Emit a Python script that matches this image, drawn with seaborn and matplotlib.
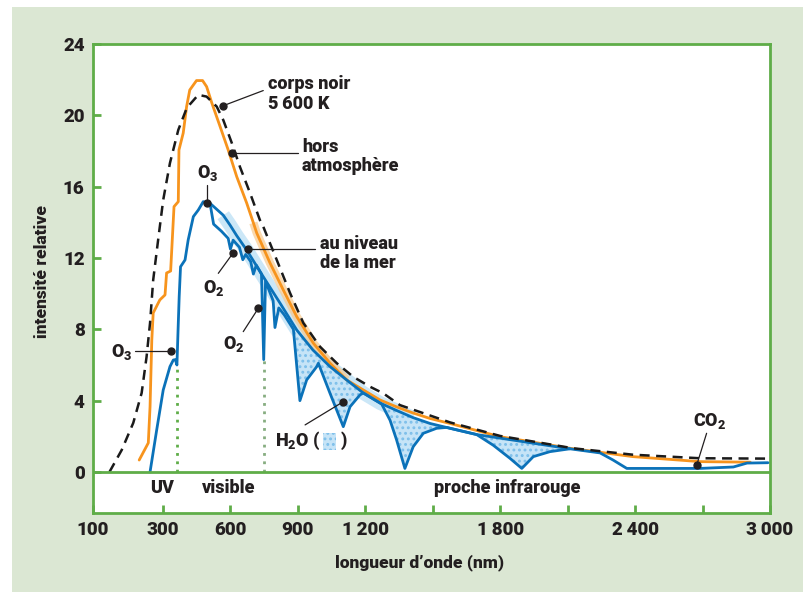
import numpy as np
import matplotlib
matplotlib.use('Agg')
import matplotlib.pyplot as plt
from matplotlib.patches import Rectangle
import seaborn as sns

# données (longueur d'onde en nm, intensité relative)
bb_wl = [147, 182, 215, 239, 253, 263, 272, 286, 301, 331, 368, 406, 457, 494, 539, 568, 606,
         642, 687, 731, 746, 806, 865, 924, 998, 1073, 1146, 1221, 1280, 1354, 1577, 1800,
         2124, 2390, 2689, 2990]
bb_val = [0, 1.23, 2.75, 4.43, 6.45, 8.36, 10.77, 13.0, 15.26, 17.33, 19.18, 20.42, 21.15,
          21.05, 20.49, 19.74, 18.45, 17.12, 15.65, 14.13, 13.76, 11.89, 10.04, 8.36, 7.03,
          6.10, 5.34, 4.78, 4.41, 3.75, 2.78, 2.02, 1.33, 0.97, 0.77, 0.75]

out_wl = [232, 258, 263, 268, 272, 291, 309, 316, 334, 349, 368, 371, 390, 405, 419, 449, 476,
          494, 517, 554, 590, 628, 672, 702, 717, 776, 835, 895, 969, 1043, 1117, 1191, 1265,
          1339, 1412, 1488, 1577, 1799, 2110, 2391, 2690, 2912]
out_val = [0.67, 1.63, 3.66, 7.40, 8.92, 9.65, 9.93, 11.16, 11.27, 14.88, 15.16, 18.06, 19.01,
           20.49, 21.42, 21.95, 21.95, 21.61, 20.70, 19.37, 18.06, 16.56, 15.09, 13.97, 13.40,
           11.72, 10.21, 8.71, 7.22, 6.10, 5.16, 4.60, 4.04, 3.65, 3.31, 3.0, 2.72, 1.98, 1.33,
           0.86, 0.58, 0.55]

# au niveau de la mer : courbe avec les bandes d'absorption
sea_wl = [263, 282, 301, 331, 346, 355, 362, 367, 372, 378, 398, 412, 435, 457, 479, 509,
          525, 560, 590, 600, 612, 640, 655, 668, 690, 702, 715, 738, 748, 756, 790, 798, 815,
          840, 865, 880, 909, 939, 984, 991, 1043, 1102, 1132, 1176, 1191, 1265, 1273, 1310,
          1339, 1376, 1413, 1458, 1517, 1562, 1577, 1695, 1769, 1843, 1896, 1947, 2021, 2110,
          2244, 2302, 2363, 2690, 2837, 2898, 2991]
sea_val = [0, 2.36, 4.6, 5.91, 6.28, 6.3, 6.0, 7.96, 9.83, 11.51, 11.89, 13.01, 14.32, 14.69,
           15.16, 15.07, 13.9, 13.5, 13.1, 12.5, 13.0, 12.6, 11.9, 12.2, 11.8, 11.1, 11.6, 11.1,
           6.3, 10.7, 9.6, 8.1, 9.2, 8.8, 8.3, 8.0, 4.0, 5.16, 5.91, 6.1, 4.41, 2.54, 3.66, 4.32,
           4.43, 3.87, 3.8, 2.9, 1.8, 0.2, 1.42, 2.17, 2.45, 2.5, 2.45, 2.1, 1.5, 0.77, 0.2,
           0.86, 1.14, 1.3, 1.07, 0.67, 0.2, 0.2, 0.28, 0.5, 0.52]

# enveloppe (sans absorption par H2O)
env_wl = [509, 568, 598, 628, 672, 746, 820, 895, 967, 1043, 1117, 1191, 1265, 1339, 1412,
          1488, 1577, 1695, 2110]
env_val = [15.07, 14.4, 13.85, 13.25, 12.45, 10.95, 9.48, 7.96, 6.84, 5.91, 5.16, 4.43, 3.87,
           3.45, 3.05, 2.72, 2.45, 2.1, 1.3]

# limites UV / visible / IR
bound_wl = [362, 748]
bound_top = [6.0, 6.3]

xticks = [100, 300, 600, 900, 1200, 1800, 2400, 3000]
xticklabels = ['100', '300', '600', '900', '1\u2009200', '1\u2009800', '2\u2009400', '3\u2009000']
xminor = [1500, 2100, 2700]
yticks = [0, 4, 8, 12, 16, 20, 24]

green = '#5fad48'
ink = '#231f20'
orange = '#f7941d'
blue = '#0b72b9'

sns.set_theme(style='white')
plt.rcParams['font.family'] = ['Roboto', 'DejaVu Sans']
plt.rcParams['font.weight'] = 'heavy'
plt.rcParams['axes.labelweight'] = 'heavy'
plt.rcParams['mathtext.fontset'] = 'custom'
plt.rcParams['mathtext.bf'] = 'Roboto:heavy'
plt.rcParams['mathtext.rm'] = 'Roboto:heavy'
plt.rcParams['hatch.linewidth'] = 1.3


def fwd(x):
    x = np.asarray(x, float)
    return np.where(x < 300, (x - 100) * 0.35, 70 + (x - 300) * 0.22482)


def inv(y):
    y = np.asarray(y, float)
    return np.where(y < 70, 100 + y / 0.35, 300 + (y - 70) / 0.22482)


fig = plt.figure(figsize=(8.04, 5.92), dpi=100)
fig.patch.set_facecolor('white')
fig.add_artist(Rectangle((12 / 804, 0), 1 - 12 / 804, 585 / 592, transform=fig.transFigure,
                         facecolor='#dbe7d3', edgecolor='none', zorder=0))
ax = fig.add_axes([93 / 804, 1 - 513 / 592, 677 / 804, 469 / 592])
ax.set_facecolor('white')
ax.set_xscale('function', functions=(fwd, inv))

# halos
env_wl_a = np.array(env_wl)
env_val_a = np.array(env_val)
m = (env_wl_a >= 560) & (env_wl_a <= 1420)
ax.plot(env_wl_a[m], env_val_a[m], color='#a9d7f3', lw=10, alpha=0.6, solid_capstyle='butt', zorder=1)
out_wl_a = np.array(out_wl)
out_val_a = np.array(out_val)
m = (out_wl_a >= 690) & (out_wl_a <= 1120)
ax.plot(out_wl_a[m], out_val_a[m], color='#f8c98c', lw=6, alpha=0.7, solid_capstyle='butt', zorder=1)

# zone absorbée par H2O
sea_wl_a = np.array(sea_wl)
sea_val_a = np.array(sea_val)
me = (env_wl_a >= 860) & (env_wl_a <= 2110)
ms = (sea_wl_a >= 860) & (sea_wl_a <= 2110)
poly_x = np.concatenate([env_wl_a[me], sea_wl_a[ms][::-1]])
poly_y = np.concatenate([env_val_a[me], sea_val_a[ms][::-1]])
ax.fill(poly_x, poly_y, facecolor='#c6e4f7', edgecolor='#7dbfea', hatch='...', lw=0, zorder=2)

sns.lineplot(x=bb_wl, y=bb_val, ax=ax, color='#1a1a1a', lw=1.8, sort=False,
             linestyle=(0, (4, 2.6)), zorder=4)
sns.lineplot(x=out_wl, y=out_val, ax=ax, color=orange, lw=2, sort=False, zorder=3)
sns.lineplot(x=env_wl, y=env_val, ax=ax, color=blue, lw=2, sort=False, zorder=3)
sns.lineplot(x=sea_wl, y=sea_val, ax=ax, color=blue, lw=2, sort=False, zorder=3)

ax.vlines(bound_wl, 0, bound_top, colors=[green, '#86ad80'], lw=2, linestyles=(0, (1, 2)), zorder=2)
ax.axhline(0, color=green, lw=2, zorder=5)

ax.set_xlim(100, 3000)
ax.set_ylim(-2.3, 24)
for s in ax.spines.values():
    s.set_color(green)
    s.set_linewidth(2)

ax.set_xticks(xticks)
ax.set_xticklabels(xticklabels)
ax.set_xticks(xminor, minor=True)
ax.set_yticks(yticks)
ax.tick_params(axis='x', which='both', direction='in', length=6, width=2, color=green,
               pad=6, labelsize=13.5, labelcolor=ink, bottom=True)
ax.tick_params(axis='y', direction='in', length=6, width=2, color=green,
               pad=6, labelsize=13.5, labelcolor=ink, left=True)

ax.set_ylabel('intensité relative', fontsize=12.5, color=ink, fontweight='heavy')
ax.yaxis.set_label_coords(-0.064, 0.514)
ax.set_xlabel('longueur d\u2019onde (nm)', fontsize=12.5, color=ink, fontweight='heavy')
ax.xaxis.set_label_coords(0.483, -0.088)

# domaines
kw = dict(fontsize=13, color=ink, va='center', ha='center')
ax.text(297, -0.9, 'UV', **kw)
ax.text(594, -0.9, 'visible', **kw)
ax.text(1830, -0.9, 'proche infrarouge', **kw)

# annotations
def note(dot, end):
    ax.plot([dot[0], end[0]], [dot[1], end[1]], color=ink, lw=0.9, zorder=6)
    ax.plot([dot[0]], [dot[1]], 'o', color=ink, ms=5, zorder=7)

tk = dict(fontsize=13, color=ink, linespacing=1.1)
note((566, 20.53), (746, 21.39))
ax.text(767, 21.2, 'corps noir\n5\u2009600 K', ha='left', va='center', **tk)
note((606, 17.91), (902, 17.91))
ax.text(918, 17.69, 'hors\natmosphère', ha='left', va='center', **tk)
note((494, 15.07), (494, 16.1))
ax.text(501, 16.75, r'O$_\mathbf{3}$', ha='center', va='center', **tk)
note((677, 12.49), (976, 12.49))
ax.text(998, 12.25, 'au niveau\nde la mer', ha='left', va='center', **tk)
note((613, 12.3), (546, 11.14))
ax.text(524, 10.3, r'O$_\mathbf{2}$', ha='center', va='center', **tk)
note((724, 9.18), (657, 7.87))
ax.text(614, 7.2, r'O$_\mathbf{2}$', ha='center', va='center', **tk)
note((334, 6.8), (220, 6.8))
ax.text(182, 6.75, r'O$_\mathbf{3}$', ha='center', va='center', **tk)
note((1102, 3.94), (932, 2.64))
ax.text(798, 1.75, r'H$_\mathbf{2}$O (', ha='left', va='center', **tk)
ax.add_patch(Rectangle((1012, 1.25), 58, 0.95, facecolor='#c6e4f7', edgecolor='#7dbfea',
                       hatch='...', lw=0, zorder=6))
ax.text(1090, 1.75, ')', ha='left', va='center', **tk)
note((2674, 0.39), (2718, 2.17))
ax.text(2733, 2.85, r'CO$_\mathbf{2}$', ha='center', va='center', **tk)

fig.savefig('out.png', dpi=100)
